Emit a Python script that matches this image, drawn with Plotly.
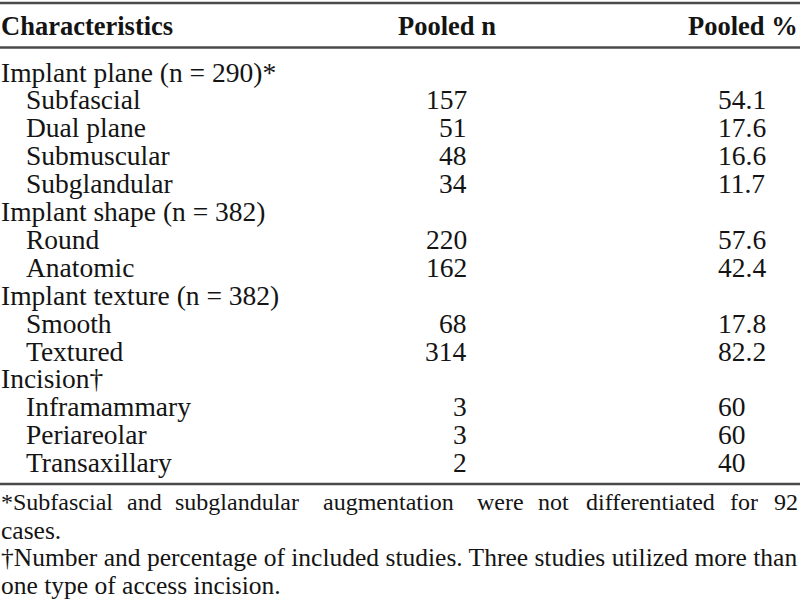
import plotly.graph_objects as go

# Table content
headers = ["Characteristics", "Pooled n", "Pooled %"]

groups = [
    "Implant plane (n = 290)*",
    "Implant shape (n = 382)",
    "Implant texture (n = 382)",
    "Incision†",
]
group_items = [
    ["Subfascial", "Dual plane", "Submuscular", "Subglandular"],
    ["Round", "Anatomic"],
    ["Smooth", "Textured"],
    ["Inframammary", "Periareolar", "Transaxillary"],
]
group_n = [
    [157, 51, 48, 34],
    [220, 162],
    [68, 314],
    [3, 3, 2],
]
group_pct = [
    ["54.1", "17.6", "16.6", "11.7"],
    ["57.6", "42.4"],
    ["17.8", "82.2"],
    ["60", "60", "40"],
]

footnote_1_words = ["*Subfascial", "and", "subglandular", "augmentation", "were",
                    "not", "differentiated", "for", "92"]
footnote_lines = [
    "cases.",
    "†Number and percentage of included studies. Three studies utilized more than",
    "one type of access incision.",
]

# Layout constants
SERIF = "Liberation Serif, Times New Roman, serif"
TXT = "#141414"
RULE = "#4a4a4a"
BODY_SIZE = 27.5
HEAD_SIZE = 26.5
FOOT_SIZE = 25.5
FOOT1_SIZE = 24
ROW0 = 72
ROW_H = 27.9
X_LABEL = 0
X_INDENT = 24
X_N = 469
X_PCT = 716
# justified first footnote line: word centres across the full width
word_centers = [55, 144, 237, 388, 500, 553, 650, 744, 784]

annotations = []


def add_text(x, y, text, anchor="left", size=BODY_SIZE, bold=False, shift=0):
    annotations.append(dict(
        x=x, y=y, xref="x", yref="y", text=f"<b>{text}</b>" if bold else text,
        showarrow=False, xanchor=anchor, yanchor="middle", xshift=shift,
        font=dict(family=SERIF, size=size, color=TXT),
    ))


# header
add_text(X_LABEL, 26, headers[0], bold=True, size=HEAD_SIZE, shift=-1)
add_text(447, 26, headers[1], anchor="center", bold=True, size=HEAD_SIZE)
add_text(800, 26, headers[2], anchor="right", bold=True, size=HEAD_SIZE)

# body rows
row = 0
for g, items, ns, pcts in zip(groups, group_items, group_n, group_pct):
    add_text(X_LABEL, ROW0 + row * ROW_H, g, shift=-1)
    row += 1
    for item, n, p in zip(items, ns, pcts):
        y = ROW0 + row * ROW_H
        add_text(X_INDENT, y, item)
        add_text(X_N, y, str(n), anchor="right")
        add_text(X_PCT, y, p)
        row += 1

# footnotes
last = len(footnote_1_words) - 1
for i, (w, xc) in enumerate(zip(footnote_1_words, word_centers)):
    if i == 0:
        add_text(0, 502, w, anchor="left", size=FOOT1_SIZE, shift=-1)
    elif i == last:
        add_text(800, 502, w, anchor="right", size=FOOT1_SIZE)
    else:
        add_text(xc, 502, w, anchor="center", size=FOOT1_SIZE)
for i, line in enumerate(footnote_lines):
    add_text(0, 530 + i * 27.7, line, size=FOOT_SIZE, shift=-1)

rule_y = [(3, 2.5), (47.5, 2.5), (484, 2.5)]
shapes = [
    dict(type="line", xref="x", yref="y", x0=0, x1=800, y0=y, y1=y,
         line=dict(color=RULE, width=w))
    for y, w in rule_y
]

fig = go.Figure()
fig.update_layout(
    width=800, height=600,
    margin=dict(l=0, r=0, t=0, b=0),
    paper_bgcolor="white", plot_bgcolor="white",
    xaxis=dict(range=[0, 800], visible=False, fixedrange=True),
    yaxis=dict(range=[600, 0], visible=False, fixedrange=True),
    annotations=annotations, shapes=shapes,
    showlegend=False,
)
fig.write_html(
    "out.html",
    config={"displayModeBar": False},
    post_script="document.body.style.margin='0';document.body.style.overflow='hidden';",
)
